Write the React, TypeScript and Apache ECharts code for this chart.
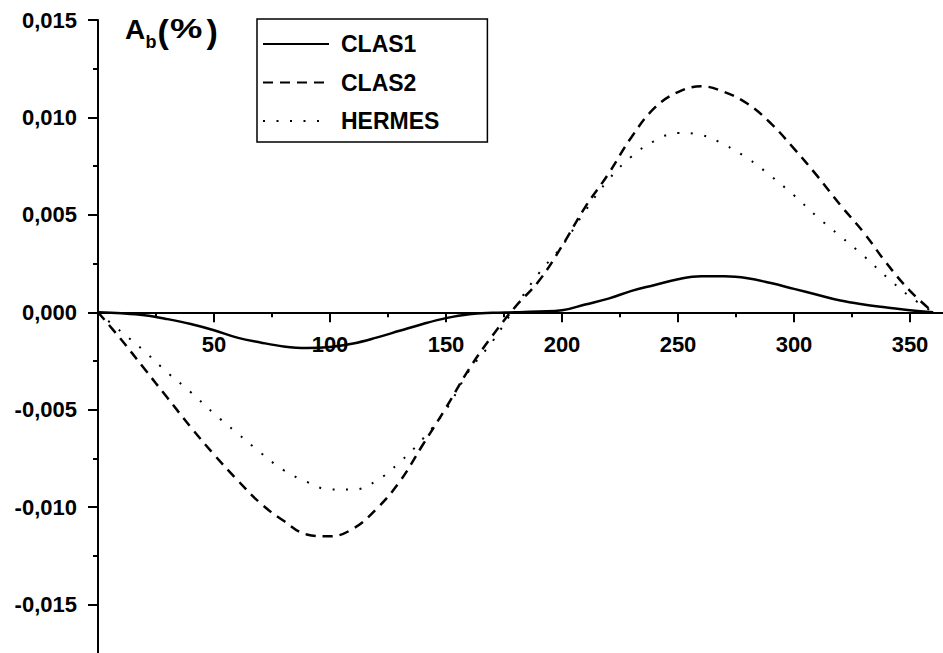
import React, { useEffect, useRef } from "react";
import * as echarts from "echarts";

const phi = [0, 10, 20, 30, 40, 50, 60, 70, 80, 90, 100, 110, 120, 130, 140, 150, 160, 170, 180, 190, 200, 210, 220, 230, 240, 250, 260, 270, 280, 290, 300, 310, 320, 330, 340, 350, 360];

const clas1 = [0, -0.00005, -0.00015, -0.00035, -0.0006, -0.00092, -0.0013, -0.00155, -0.00175, -0.00183, -0.00178, -0.0016, -0.0013, -0.00095, -0.0006, -0.0003, -0.0001, -0.00003, 0, 0.00004, 0.0001, 0.0004, 0.0007, 0.0011, 0.0014, 0.0017, 0.00185, 0.00185, 0.00175, 0.0015, 0.0012, 0.0009, 0.0006, 0.0004, 0.00025, 0.0001, 0];

const clas2 = [0, -0.0014, -0.0029, -0.0044, -0.0059, -0.0073, -0.0086, -0.0098, -0.0107, -0.0114, -0.0115, -0.0111, -0.0101, -0.0087, -0.0068, -0.0049, -0.0029, -0.0012, 0.0003, 0.0016, 0.0034, 0.0054, 0.0071, 0.009, 0.0105, 0.0113, 0.0116, 0.0113, 0.0107, 0.0097, 0.0084, 0.007, 0.0055, 0.0041, 0.0025, 0.0011, 0];

const hermes = [0, -0.001, -0.002, -0.0031, -0.0041, -0.0052, -0.0062, -0.0072, -0.0081, -0.0087, -0.0091, -0.0091, -0.00865, -0.0077, -0.0065, -0.005, -0.003, -0.0015, 0.0003, 0.002, 0.0034, 0.0052, 0.0068, 0.008, 0.0088, 0.0092, 0.0091, 0.0086, 0.0079, 0.007, 0.006, 0.0049, 0.0039, 0.0029, 0.0018, 0.0008, 0];

const seriesNames = ["CLAS1", "CLAS2", "HERMES"];

const FONT = "'Liberation Sans', Arial, sans-serif";

export default function App() {
  const ref = useRef<HTMLDivElement>(null);
  useEffect(() => {
    if (!ref.current) return;
    const chart = echarts.init(ref.current, null, { renderer: "svg" });
    const pairs = (arr: number[]) => phi.map((p, i) => [p, arr[i]]);
    const axisLineStyle = { color: "#000", width: 2 };
    const gridTop = 20;
    const gridHeight = 682;
    const yMin = -0.02;
    const yMax = 0.015;
    const zeroY = gridTop + (gridHeight * yMax) / (yMax - yMin);
    const xOffset = zeroY - (gridTop + gridHeight);
    chart.setOption({
      animation: false,
      backgroundColor: "#fff",
      grid: { left: 98, top: gridTop, width: 928, height: gridHeight, containLabel: false, outerBoundsMode: "none" },
      xAxis: {
        type: "value",
        position: "bottom",
        offset: xOffset,
        min: 0,
        max: 400,
        interval: 50,
        axisLine: { show: true, onZero: false, lineStyle: axisLineStyle },
        axisTick: { show: true, inside: false, length: 10, lineStyle: axisLineStyle },
        minorTick: { show: true, splitNumber: 2, length: 5, lineStyle: axisLineStyle },
        splitLine: { show: false },
        minorSplitLine: { show: false },
        axisLabel: {
          show: true,
          margin: 21,
          color: "#000",
          fontSize: 22,
          fontWeight: "bold",
          fontFamily: FONT,
          showMinLabel: false,
          formatter: (v: number) => (v === 0 || v > 360 ? "" : String(v)),
        },
      },
      yAxis: {
        type: "value",
        min: yMin,
        max: yMax,
        interval: 0.005,
        axisLine: { show: true, onZero: false, lineStyle: axisLineStyle },
        axisTick: { show: true, inside: false, length: 10, lineStyle: axisLineStyle },
        minorTick: { show: true, splitNumber: 2, length: 5, lineStyle: axisLineStyle },
        splitLine: { show: false },
        minorSplitLine: { show: false },
        axisLabel: {
          show: true,
          margin: 21,
          color: "#000",
          fontSize: 22,
          fontWeight: "bold",
          fontFamily: FONT,
          showMinLabel: false,
          formatter: (v: number) =>
            v < -0.0175 ? "" : Math.abs(v) < 1e-9 ? "0,000" : v.toFixed(3).replace(".", ","),
        },
      },
      legend: {
        orient: "vertical",
        left: 257,
        top: 19,
        padding: [13, 48, 9, 5],
        itemWidth: 66,
        itemHeight: 24,
        itemGap: 14.5,
        borderColor: "#000",
        borderWidth: 1.5,
        borderRadius: 0,
        backgroundColor: "#fff",
        itemStyle: { opacity: 0 },
        textStyle: { fontSize: 23, fontWeight: "bold", fontFamily: FONT, color: "#000", lineHeight: 24, padding: [0, 0, 0, 7] },
        data: seriesNames,
      },
      graphic: [
        { type: "text", x: 125, y: 29, style: { text: "A", font: `bold 28px ${FONT}`, fill: "#000", verticalAlign: "middle" } },
        { type: "text", x: 145.5, y: 42, style: { text: "b", font: `bold 18px ${FONT}`, fill: "#000", verticalAlign: "middle" } },
        { type: "text", x: 157.5, y: 31, style: { text: "(", font: `bold 34px ${FONT}`, fill: "#000", verticalAlign: "middle" } },
        { type: "text", x: 170, y: 29, scaleX: 1.3, style: { text: "%", font: `bold 28px ${FONT}`, fill: "#000", verticalAlign: "middle" } },
        { type: "text", x: 206.5, y: 31, style: { text: ")", font: `bold 34px ${FONT}`, fill: "#000", verticalAlign: "middle" } },
      ],
      series: [
        {
          name: "CLAS1",
          type: "line",
          data: pairs(clas1),
          symbol: "none",
          smooth: 0.4,
          lineStyle: { color: "#000", width: 2.5, type: "solid" },
          itemStyle: { color: "#000" },
        },
        {
          name: "CLAS2",
          type: "line",
          data: pairs(clas2),
          symbol: "none",
          smooth: 0.4,
          lineStyle: { color: "#000", width: 2.5, type: [10, 7] },
          itemStyle: { color: "#000" },
        },
        {
          name: "HERMES",
          type: "line",
          data: pairs(hermes),
          symbol: "none",
          smooth: 0.4,
          lineStyle: { color: "#000", width: 2, type: [2, 11.5] },
          itemStyle: { color: "#000" },
        },
      ],
    });
    return () => chart.dispose();
  }, []);
  return (
    <div
      ref={ref}
      style={{ position: "fixed", left: 0, top: 0, width: 943, height: 653, background: "#fff" }}
    />
  );
}
